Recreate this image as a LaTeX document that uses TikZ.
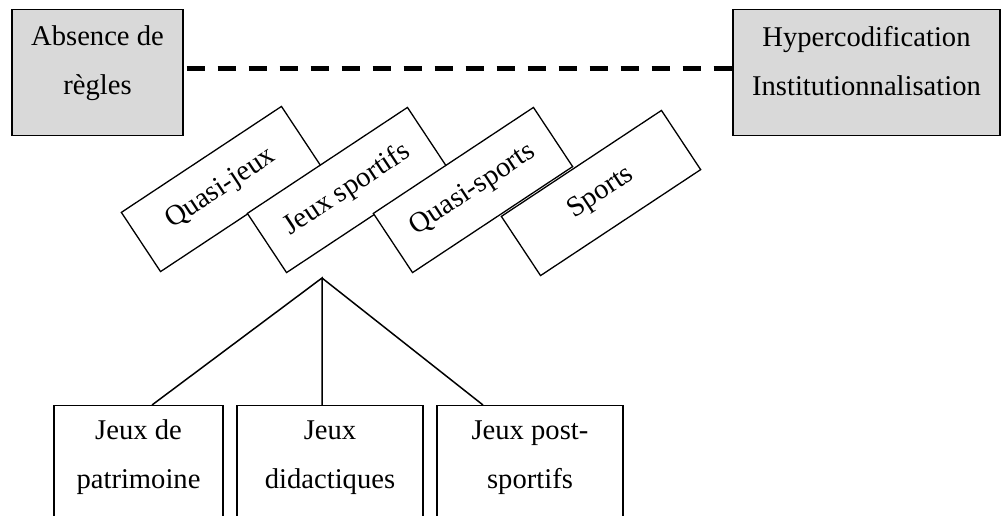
\documentclass[tikz,border=0pt]{standalone}
\usepackage{fontspec}
\setmainfont{Liberation Serif}
\usetikzlibrary{calc}
\definecolor{boxgray}{RGB}{217,217,217}

\begin{document}
\begin{tikzpicture}[x=0.5pt, y=-0.5pt, line join=miter,
	font=\fontsize{14.3}{24.5}\selectfont,
	pole/.style={draw, line width=0.65pt, fill=boxgray, anchor=north, align=center,
		inner sep=0pt, minimum height=63pt},
	tilted/.style={draw, line width=0.65pt, fill=white, rotate=33.5,
		minimum width=96pt, minimum height=35.5pt, inner sep=0pt},
	leaf/.style={draw, line width=0.65pt, anchor=north, align=center,
		inner sep=0pt, text height=41.5pt, text depth=30pt},
	branch/.style={line width=0.75pt}]
	
	\useasboundingbox (0,0) rectangle (1001,515);
	\clip (0,0) rectangle (1001,515);
	
	% ===== Top: the two poles and the axis between them =====
	\node[pole, minimum width=85.5pt, text height=42.5pt, text depth=20.5pt] (absence) at (97.5,9) {Absence de\\règles};
	\node[pole, minimum width=133.5pt, text height=43pt, text depth=20pt] (hyper) at (866.5,9) {Hypercodification\\Institutionnalisation};
	\draw[line width=2.25pt, dash pattern=on 9pt off 6.5pt]
	([xshift=1.5pt, yshift=2pt]absence.east) -- ([yshift=2pt]hyper.west);
	
	% ===== Middle: tilted categories, each one laid over the previous =====
	\node[tilted] (quasijeux) at (221,189) {Quasi-jeux};
	\node[tilted] (jeuxsportifs) at (347,190) {Jeux sportifs};
	\node[tilted] (quasisports) at (473,190) {Quasi-sports};
	\node[tilted] (sports) at (601,193) {Sports};
	
	% ===== Bottom: the three kinds of sporting games =====
	\node[leaf, minimum width=84.5pt] (patrimoine) at (138.5,405) {Jeux de\\patrimoine};
	\node[leaf, minimum width=93pt] (didactiques) at (330,405) {Jeux\\didactiques};
	\node[leaf, minimum width=93pt] (postsportifs) at (530,405) {Jeux post-\\sportifs};
	
	% tree from below the tilted boxes
	\coordinate (fork) at (322,278);
	\draw[branch] ([xshift=6.75pt]patrimoine.north) -- (fork) -- ([xshift=-4pt]didactiques.north);
	\draw[branch] (fork) -- ([xshift=-23.5pt]postsportifs.north);
	
\end{tikzpicture}
\end{document}
